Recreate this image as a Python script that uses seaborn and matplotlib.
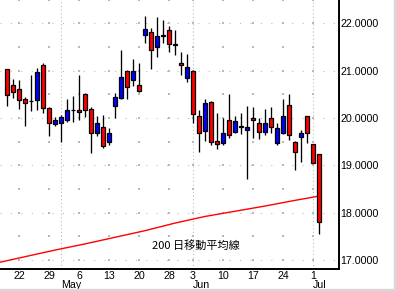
import numpy as np
import pandas as pd
import matplotlib
matplotlib.use("Agg")
import matplotlib.pyplot as plt
import seaborn as sns
from matplotlib.patches import Rectangle

# ---------------- data ----------------
dates = ["2013-04-18", "2013-04-19", "2013-04-22", "2013-04-23", "2013-04-24", "2013-04-25", "2013-04-26",
         "2013-04-29", "2013-04-30", "2013-05-01", "2013-05-02", "2013-05-03",
         "2013-05-06", "2013-05-07", "2013-05-08", "2013-05-09", "2013-05-10",
         "2013-05-13", "2013-05-14", "2013-05-15", "2013-05-16", "2013-05-17",
         "2013-05-20", "2013-05-21", "2013-05-22", "2013-05-23", "2013-05-24",
         "2013-05-28", "2013-05-29", "2013-05-30", "2013-05-31",
         "2013-06-03", "2013-06-04", "2013-06-05", "2013-06-06", "2013-06-07",
         "2013-06-10", "2013-06-11", "2013-06-12", "2013-06-13", "2013-06-14",
         "2013-06-17", "2013-06-18", "2013-06-19", "2013-06-20", "2013-06-21",
         "2013-06-24", "2013-06-25", "2013-06-26", "2013-06-27", "2013-06-28",
         "2013-07-01", "2013-07-02"]
opens = [21.03, 20.70, 20.61, 20.40, 20.36, 20.37, 21.12,
         20.21, 19.87, 19.89, 19.95, 20.17,
         20.17, 20.51, 20.19, 19.68, 19.81,
         19.49, 20.26, 20.43, 21.00, 20.81,
         20.69, 21.76, 21.81, 21.49, 21.75,
         21.86, 21.56, 21.16, 20.84,
         21.00, 20.04, 19.73, 20.33, 19.52,
         19.47, 19.95, 19.71, 19.83, 19.74,
         20.00, 19.89, 19.70, 20.00, 19.47,
         19.68, 20.28, 19.49, 19.59, 20.04,
         19.45, 19.23]
highs = [21.04, 20.82, 20.81, 20.44, 20.91, 21.05, 21.16,
         20.24, 20.03, 20.07, 20.40, 20.47,
         20.91, 20.52, 20.24, 20.04, 20.07,
         19.78, 20.52, 21.44, 21.02, 21.25,
         21.17, 22.16, 21.90, 22.14, 22.07,
         21.95, 21.86, 21.39, 21.35,
         21.01, 20.17, 20.40, 20.35, 20.10,
         20.00, 20.50, 20.04, 20.10, 20.26,
         20.23, 20.00, 20.19, 20.23, 19.89,
         20.40, 20.51, 19.52, 19.75, 20.05,
         19.46, 19.24]
lows = [20.26, 20.43, 20.19, 19.84, 20.14, 20.17, 20.10,
        19.63, 19.83, 19.49, 19.92, 19.91,
        19.96, 20.03, 19.26, 19.63, 19.36,
        19.43, 20.00, 20.40, 20.40, 20.68,
        20.54, 21.59, 21.04, 21.28, 21.59,
        21.40, 21.33, 20.91, 20.77,
        19.89, 19.29, 19.52, 19.43, 19.35,
        19.42, 19.57, 19.68, 19.66, 18.71,
        19.57, 19.56, 19.64, 19.68, 19.43,
        19.66, 19.54, 18.90, 19.08, 19.47,
        19.04, 17.56]
closes = [20.49, 20.55, 20.38, 20.31, 20.35, 20.97, 20.22,
          19.89, 19.95, 20.02, 20.17, 20.16,
          20.12, 20.17, 19.68, 19.89, 19.40,
          19.69, 20.44, 20.86, 20.66, 21.00,
          20.56, 21.88, 21.43, 21.73, 21.74,
          21.56, 21.55, 21.11, 21.07,
          20.08, 19.68, 20.31, 19.49, 19.45,
          19.68, 19.64, 19.93, 19.82, 19.82,
          19.95, 19.71, 19.89, 19.81, 19.78,
          20.04, 19.64, 19.28, 19.68, 19.68,
          19.05, 17.81]

ma_dates = ["2013-04-16", "2013-04-23", "2013-04-30", "2013-05-07", "2013-05-14", "2013-05-21",
            "2013-05-29", "2013-06-05", "2013-06-12", "2013-06-19", "2013-06-26", "2013-07-02"]
ma_values = [16.93, 17.07, 17.21, 17.34, 17.48, 17.62, 17.78, 17.92, 18.03, 18.14, 18.26, 18.35]

day_tick_dates = ["2013-04-22", "2013-04-29", "2013-05-06", "2013-05-13", "2013-05-20", "2013-05-28",
                  "2013-06-03", "2013-06-10", "2013-06-17", "2013-06-24", "2013-07-01"]
day_tick_labels = ["22", "29", "6", "13", "20", "28", "3", "10", "17", "24", "1"]
month_dates = ["2013-05-01", "2013-06-03", "2013-07-01"]
month_labels = ["May", "Jun", "Jul"]
price_ticks = [17, 18, 19, 20, 21, 22]
ma_label = "200 日移動平均線"

# ---------------- trading-day calendar ----------------
cal = pd.bdate_range("2013-04-16", "2013-07-05")
cal = cal[cal != pd.Timestamp("2013-05-27")]
origin = list(cal).index(pd.Timestamp(dates[0]))
idx = {d.strftime("%Y-%m-%d"): k - origin for k, d in enumerate(cal)}

df = pd.DataFrame({"date": dates, "open": opens, "high": highs, "low": lows, "close": closes})
df["pos"] = df["date"].map(idx)
ma = pd.DataFrame({"pos": [idx[d] for d in ma_dates], "ma": ma_values})
tick_pos = [idx[d] for d in day_tick_dates]
month_pos = [idx[d] for d in month_dates]

# ---------------- style ----------------
sns.set_theme(style="white")
plt.rcParams["font.family"] = ["Liberation Sans", "DejaVu Sans"]

W, H = 396, 291
fig = plt.figure(figsize=(W / 100, H / 100), dpi=100)
fig.patch.set_facecolor("white")
ax_bottom = (H - 269.3) / H
ax = fig.add_axes([0, ax_bottom, 338.5 / W, 1 - ax_bottom])
ax.set_facecolor("white")

x0 = -7 / 6.0
x1 = (338.5 - 7) / 6.0
ax.set_xlim(x0, x1)
ax.set_ylim(16.804, 22.492)

grid_c = "#b8b8b8"
# integer price gridlines (dotted)
for p in price_ticks:
    ax.axhline(p, color=grid_c, lw=0.75, ls=(0, (1, 9)), zorder=0)
# month separators (dense dotted)
for m in month_pos:
    ax.axvline(m, color=grid_c, lw=0.75, ls=(0, (1, 2.5)), zorder=0)
# weekly x half-level dots
gx, gy = np.meshgrid(tick_pos, np.arange(16.5, 22.6, 0.5))
ax.scatter(gx.ravel(), gy.ravel(), s=0.9, color=grid_c, marker="s", linewidths=0, zorder=0)

# 200-day moving average
sns.lineplot(data=ma, x="pos", y="ma", ax=ax, color="#ff0000", lw=1.0, zorder=2, legend=False)

# candlesticks
up = df["close"] > df["open"]
body_colors = np.where(up, "#0000ff", "#ff0000")
ax.vlines(df["pos"], df["low"], df["high"], color="black", lw=0.95, zorder=3)
ax.bar(df["pos"], (df["close"] - df["open"]).abs(), bottom=np.minimum(df["open"], df["close"]),
       width=0.68, color=body_colors, edgecolor="black", linewidth=0.9, zorder=4)

ax.text(31.5, 17.30, ma_label, ha="center", va="center", fontsize=8,
        family=["Noto Sans CJK JP", "DejaVu Sans"], color="black")

# axes / ticks
for s in ["top", "left"]:
    ax.spines[s].set_visible(False)
for s in ["bottom", "right"]:
    ax.spines[s].set_visible(True)
    ax.spines[s].set_color("black")
    ax.spines[s].set_linewidth(1.4)

ax.yaxis.tick_right()
ax.set_yticks(price_ticks)
ax.set_yticklabels([f"{p:.4f}" for p in price_ticks])
ax.set_xticks(tick_pos)
ax.set_xticklabels(day_tick_labels)
ax.tick_params(axis="both", length=0, labelsize=7.7, colors="black")
ax.tick_params(axis="y", pad=1.5)
ax.tick_params(axis="x", pad=1.0)
ax.set_xlabel("")
ax.set_ylabel("")

for m, lab in zip(month_pos, month_labels):
    ax.annotate(lab, xy=(m, 0), xycoords=("data", "axes fraction"), xytext=(0, -13.7),
                textcoords="offset points", ha="left", va="baseline", fontsize=7.7, color="black")

# window frame edge (light gray) at bottom and right
fig.patches.append(Rectangle((0, 0), 1, 1.6 / H, transform=fig.transFigure, color="#d8d8d8", zorder=10))
fig.patches.append(Rectangle((1 - 2.0 / W, 0), 2.0 / W, 1, transform=fig.transFigure, color="#d8d8d8", zorder=10))

fig.savefig("out.png", dpi=100)
